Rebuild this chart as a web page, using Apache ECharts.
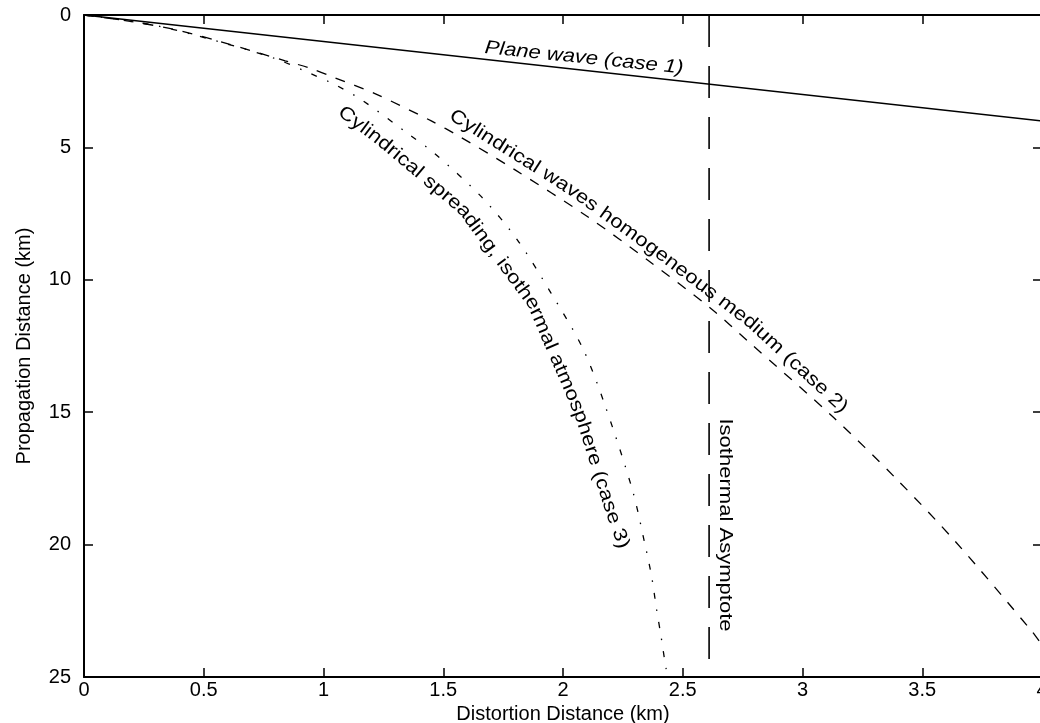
<!DOCTYPE html>
<html><head><meta charset="utf-8">
<script src="https://cdn.jsdelivr.net/npm/echarts@6/dist/echarts.min.js"></script>
<style>html,body{margin:0;padding:0;background:#fff}#c{width:1040px;height:723px}</style>
</head><body><div id="c"></div>
<script>
// ---- data ----
const xAxisName = 'Distortion Distance (km)';
const yAxisName = 'Propagation Distance (km)';
const xMin = 0, xMax = 4, xStep = 0.5;
const yMin = 0, yMax = 25, yStep = 5;

const case1X = [0, 4];
const case1Y = [0, 4.0];

const case2X = [0, 0.2, 0.38, 0.56, 0.84, 0.94, 1.05, 1.21, 1.45, 1.57, 1.80, 2.10, 2.36, 2.62, 2.77, 3.13, 3.39, 3.64, 3.96, 4.0];
const case2Y = [0, 0.25, 0.55, 0.98, 1.73, 2.0, 2.38, 2.95, 4.0, 4.6, 5.85, 7.6, 9.3, 11.1, 12.3, 15.2, 17.5, 19.9, 23.3, 23.8];

const case3X = [0, 0.3, 0.56, 0.8, 0.94, 1.05, 1.16, 1.36, 1.46, 1.66, 1.81, 1.95, 2.08, 2.17, 2.29, 2.34, 2.37, 2.39, 2.41, 2.43, 2.44];
const case3Y = [0, 0.4, 1.0, 1.65, 2.19, 2.64, 3.21, 4.53, 5.2, 6.87, 8.5, 10.5, 12.54, 14.6, 17.94, 19.9, 21.2, 22.4, 23.5, 24.66, 25];

const asymptoteX = [2.61, 2.61];
const asymptoteY = [0, 25];

const case1Label = 'Plane wave (case 1)';
const case2Label = 'Cylindrical waves homogeneous medium (case 2)';
const case3Label = 'Cylindrical spreading, isothermal atmosphere (case 3)';
const asymptoteLabel = 'Isothermal Asymptote';

// ---- chart ----
const FONT = '"Liberation Sans", Arial, Helvetica, sans-serif';
const FSIZE = 19, SX = 1.16;
const zip = (xs, ys) => xs.map((x, i) => [x, ys[i]]);
const deg = d => -d * Math.PI / 180;

function word(text, x, y, angle, italic) {
  return {
    type: 'text', x: x, y: y, rotation: deg(angle), scaleX: SX, z: 100,
    style: {
      text: text, x: 0, y: 0, fill: '#000',
      font: (italic ? 'italic ' : '') + FSIZE + 'px ' + FONT,
      align: 'center', verticalAlign: 'middle'
    }
  };
}

// text laid out along a guide polyline (screen pixels), one glyph per element
const ctx = document.createElement('canvas').getContext('2d');
ctx.font = FSIZE + 'px ' + FONT;
function textOnPath(text, pts) {
  const seg = [0];
  for (let i = 1; i < pts.length; i++) {
    seg.push(seg[i - 1] + Math.hypot(pts[i][0] - pts[i - 1][0], pts[i][1] - pts[i - 1][1]));
  }
  const total = seg[seg.length - 1];
  function at(s) {
    s = Math.max(0, Math.min(total, s));
    let i = 1;
    while (i < seg.length - 1 && seg[i] < s) i++;
    const t = (s - seg[i - 1]) / (seg[i] - seg[i - 1]);
    return [pts[i - 1][0] + t * (pts[i][0] - pts[i - 1][0]), pts[i - 1][1] + t * (pts[i][1] - pts[i - 1][1])];
  }
  const width = ctx.measureText(text).width * SX;
  const k = total / width;
  const out = [];
  for (let i = 0; i < text.length; i++) {
    const ch = text[i];
    if (ch === ' ') continue;
    const a = ctx.measureText(text.slice(0, i)).width * SX * k;
    const b = ctx.measureText(text.slice(0, i + 1)).width * SX * k;
    const s = (a + b) / 2;
    const p = at(s);
    const p0 = at(s - 14), p1 = at(s + 14);
    const ang = Math.atan2(p1[1] - p0[1], p1[0] - p0[0]);
    out.push({
      type: 'text', x: p[0], y: p[1], rotation: -ang, scaleX: SX, z: 100,
      style: { text: ch, x: 0, y: 0, fill: '#000', font: FSIZE + 'px ' + FONT,
               align: 'center', verticalAlign: 'middle' }
    });
  }
  return out;
}

const case2Guide = [[451, 114], [497, 143], [570, 189], [659, 253], [751, 323], [815, 382], [845, 410]];
const case3Guide = [[340, 110], [381, 141], [463, 210], [532, 303], [579, 412], [611, 512], [624, 548]];

const graphics = [word(case1Label, 584, 58, 5.9, true)]
  .concat(textOnPath(case2Label, case2Guide))
  .concat(textOnPath(case3Label, case3Guide))
  .concat([word(asymptoteLabel, 725, 525, 90)]);

const axisLine = { show: true, onZero: false, lineStyle: { color: '#000', width: 2 } };
const tickIn = { show: true, inside: true, length: 9, lineStyle: { color: '#000', width: 1.5 } };
const lbl = { color: '#000', fontSize: 20, fontFamily: FONT };

const option = {
  animation: false,
  backgroundColor: '#fff',
  grid: { left: 84, top: 15, width: 958, height: 662, outerBoundsMode: 'none', containLabel: false },
  xAxis: [
    { type: 'value', position: 'bottom', min: xMin, max: xMax, interval: xStep,
      name: xAxisName, nameLocation: 'middle', nameGap: 22,
      nameTextStyle: { color: '#000', fontSize: 20, fontFamily: FONT },
      axisLine: axisLine, axisTick: tickIn, splitLine: { show: false },
      axisLabel: Object.assign({ margin: 3 }, lbl) },
    { type: 'value', position: 'top', min: xMin, max: xMax, interval: xStep,
      axisLine: axisLine, axisTick: tickIn, splitLine: { show: false },
      axisLabel: { show: false } }
  ],
  yAxis: [
    { type: 'value', position: 'left', inverse: true, min: yMin, max: yMax, interval: yStep,
      name: yAxisName, nameLocation: 'middle', nameGap: 50, nameRotate: 90,
      nameTextStyle: { color: '#000', fontSize: 20, fontFamily: FONT },
      axisLine: axisLine, axisTick: tickIn, splitLine: { show: false },
      axisLabel: Object.assign({ margin: 13 }, lbl) },
    { type: 'value', position: 'right', inverse: true, min: yMin, max: yMax, interval: yStep,
      axisLine: axisLine, axisTick: tickIn, splitLine: { show: false },
      axisLabel: { show: false } }
  ],
  series: [
    { type: 'line', name: 'case 1', data: zip(case1X, case1Y), symbol: 'none',
      lineStyle: { color: '#000', width: 1.6, type: 'solid' } },
    { type: 'line', name: 'case 2', data: zip(case2X, case2Y), symbol: 'none', smooth: 0.3,
      lineStyle: { color: '#000', width: 1.3, type: [10, 10] } },
    { type: 'line', name: 'case 3', data: zip(case3X, case3Y), symbol: 'none', smooth: 0.3,
      lineStyle: { color: '#000', width: 1.3, type: [6, 11, 1.5, 11] } },
    { type: 'line', name: 'asymptote', data: zip(asymptoteX, asymptoteY), symbol: 'none',
      lineStyle: { color: '#000', width: 1.6, type: [32, 19] } }
  ],
  graphic: graphics
};

const chart = echarts.init(document.getElementById('c'), null, { renderer: 'canvas' });
chart.setOption(option);
</script>
</body></html>
